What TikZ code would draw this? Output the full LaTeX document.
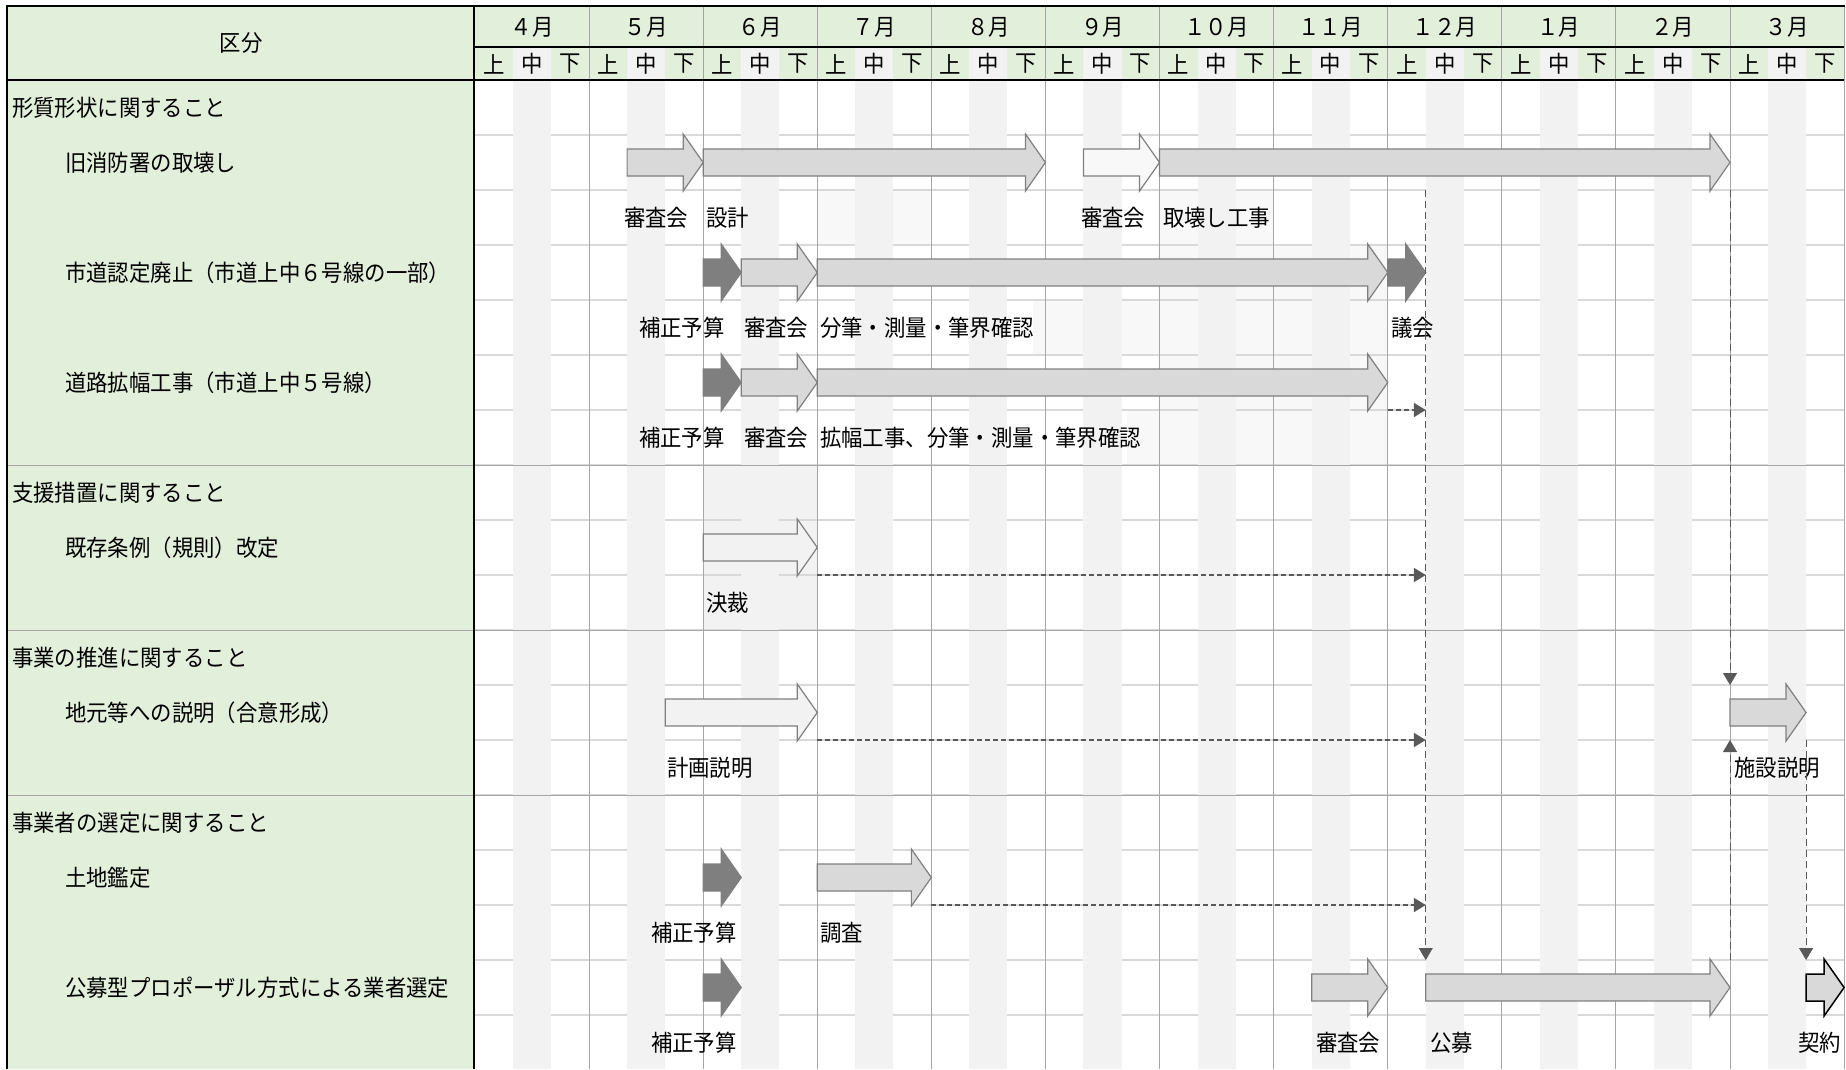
\documentclass[tikz,border=0pt]{standalone}
\usepackage{fontspec}
\newfontfamily\jp[FakeStretch=0.93]{Noto Sans CJK JP}
\usetikzlibrary{arrows.meta,positioning}

\definecolor{hdgreen}{HTML}{E2EFDA}
\definecolor{midgray}{HTML}{F2F2F2}
\definecolor{faint}{HTML}{F8F8F8}
\definecolor{rowgray}{HTML}{D9D9D9}
\definecolor{monthgray}{HTML}{A6A6A6}
\definecolor{arrowgray}{HTML}{D9D9D9}
\definecolor{arrowdark}{HTML}{7F7F7F}
\definecolor{linkgray}{HTML}{595959}

% block arrow: style, from decade, to decade, row
\newcommand{\blockarrow}[4]{%
  \draw[#1] ({dx(#2)},{ry(#4)-13.5}) -- ({dx(#3)-20},{ry(#4)-13.5}) -- ({dx(#3)-20},{ry(#4)-28.5})
    -- ({dx(#3)},{ry(#4)}) -- ({dx(#3)-20},{ry(#4)+28.5}) -- ({dx(#3)-20},{ry(#4)+13.5})
    -- ({dx(#2)},{ry(#4)+13.5}) -- cycle;}

\begin{document}
\begin{tikzpicture}[x=1pt, y=-1pt, >={Triangle[length=12pt,width=14pt]},
    font=\jp\fontsize{23}{26}\selectfont,
    declare function={dx(\d)=475+38.03*\d; ry(\r)=107.5+55*\r;}]
    % Styles
    \tikzstyle{item} = [inner sep=0pt, anchor=west]
    \tikzstyle{garrow} = [draw=arrowdark, fill=arrowgray, line width=1.2pt]
    \tikzstyle{darrow} = [draw=arrowdark, fill=arrowdark, line width=1.2pt]
    \tikzstyle{warrow} = [draw=arrowdark, fill=faint, line width=1.2pt]
    \tikzstyle{link} = [draw=linkgray, line width=2.2pt, dash pattern=on 5pt off 3pt, ->]
    \tikzstyle{vlink} = [draw=linkgray, line width=1pt, dash pattern=on 7pt off 4pt, ->]
    \tikzstyle{rowline} = [draw=rowgray, line width=2.2pt]
    \tikzstyle{monthline} = [draw=monthgray, line width=1pt]
    \useasboundingbox (0,0) rectangle (1846,1069);

    % Background
    \fill[hdgreen] (7,6) rectangle (1844,80);
    \fill[hdgreen] (7,80) rectangle (474,1069);
    \fill[faint] (817,190) rectangle (930,245);
    \fill[faint] (1158,190) rectangle (1274,245);
    \fill[faint] (1158,245) rectangle (1387,465);
    \fill[faint] (1033,300) rectangle (1158,355);
    \fill[faint] (1127,410) rectangle (1158,465);
    \fill[midgray] ({dx(6)},465) rectangle ({dx(9)},630);
    \foreach \k in {1,...,17}
        \draw[rowline] (475,{80+55*\k}) -- (1844,{80+55*\k});
    \foreach \m in {0,...,11}
        \fill[midgray] ({dx(3*\m+1)},47) rectangle ({dx(3*\m+2)},1069);

    % Grid
    \foreach \m in {1,...,11}
        \draw[monthline] ({dx(3*\m)},6) -- ({dx(3*\m)},1069);
    \draw[monthline] (1844,6) -- (1844,1069);
    \foreach \y in {465,630,795}
        \draw[monthline] (7,\y) -- (1844,\y);
    \draw[line width=1.5pt] (474,47) -- (1844,47);
    \draw[line width=1.5pt] (7,80) -- (1844,80);
    \draw[line width=1.5pt] (7,6) -- (7,1069);
    \draw[line width=1.5pt] (474,6) -- (474,1069);
    \draw[line width=2.5pt] (6,6) -- (1845,6);

    % Header
    \node (kubun) at (241,43) {区分};
    \foreach \t [count=\i from 0] in {４月,５月,６月,７月,８月,９月,１０月,１１月,１２月,１月,２月,３月} {
        \node (m\i) at ({dx(3*\i+1.5)},27) {\t};
        \node (u\i) at ({dx(3*\i+0.5)},64) {上};
        \node (c\i) at ({dx(3*\i+1.5)},64) {中};
        \node (l\i) at ({dx(3*\i+2.5)},64) {下};
    }

    % Items
    \node [item] (sec1) at (12,{ry(0)}) {形質形状に関すること};
    \node [item] (demolish) at (65,{ry(1)}) {旧消防署の取壊し};
    \node [item] (abolish) at (65,{ry(3)}) {市道認定廃止（市道上中６号線の一部）};
    \node [item] (widen) at (65,{ry(5)}) {道路拡幅工事（市道上中５号線）};
    \node [item] (sec2) at (12,{ry(7)}) {支援措置に関すること};
    \node [item] (rule) at (65,{ry(8)}) {既存条例（規則）改定};
    \node [item] (sec3) at (12,{ry(10)}) {事業の推進に関すること};
    \node [item] (local) at (65,{ry(11)}) {地元等への説明（合意形成）};
    \node [item] (sec4) at (12,{ry(13)}) {事業者の選定に関すること};
    \node [item] (land) at (65,{ry(14)}) {土地鑑定};
    \node [item] (kobo) at (65,{ry(16)}) {公募型プロポーザル方式による業者選定};

    % Bars
    \blockarrow{garrow}{4}{6}{1}
    \blockarrow{garrow}{6}{15}{1}
    \blockarrow{warrow}{16}{18}{1}
    \blockarrow{garrow}{18}{33}{1}
    \blockarrow{darrow}{6}{7}{3}
    \blockarrow{garrow}{7}{9}{3}
    \blockarrow{garrow}{9}{24}{3}
    \blockarrow{darrow}{24}{25}{3}
    \blockarrow{darrow}{6}{7}{5}
    \blockarrow{garrow}{7}{9}{5}
    \blockarrow{garrow}{9}{24}{5}
    \blockarrow{draw=arrowdark, line width=1.2pt}{6}{9}{8}
    \blockarrow{draw=arrowdark, fill=midgray, line width=1.2pt}{5}{9}{11}
    \blockarrow{garrow}{33}{35}{11}
    \blockarrow{darrow}{6}{7}{14}
    \blockarrow{garrow}{9}{12}{14}
    \blockarrow{darrow}{6}{7}{16}
    \blockarrow{garrow}{22}{24}{16}
    \blockarrow{garrow}{25}{33}{16}
    \blockarrow{draw=black, fill=arrowgray, line width=1.5pt}{35}{36}{16}

    % Bar labels
    \node [item] (s1) at (624,{ry(2)}) {審査会};
    \node [item] (design) at (706,{ry(2)}) {設計};
    \node [item] (s2) at (1081,{ry(2)}) {審査会};
    \node [item] (works) at (1163,{ry(2)}) {取壊し工事};
    \node [item] (b1) at (639,{ry(4)}) {補正予算};
    \node [item] (s3) at (744,{ry(4)}) {審査会};
    \node [item] (survey1) at (820,{ry(4)}) {分筆・測量・筆界確認};
    \node [item] (council) at (1391,{ry(4)}) {議会};
    \node [item] (b2) at (639,{ry(6)}) {補正予算};
    \node [item] (s4) at (744,{ry(6)}) {審査会};
    \node [item] (survey2) at (820,{ry(6)}) {拡幅工事、分筆・測量・筆界確認};
    \node [item] (approve) at (706,{ry(9)}) {決裁};
    \node [item] (plan) at (667,{ry(12)}) {計画説明};
    \node [item] (facility) at (1734,{ry(12)}) {施設説明};
    \node [item] (b3) at (651,{ry(15)}) {補正予算};
    \node [item] (research) at (820,{ry(15)}) {調査};
    \node [item] (b4) at (651,{ry(17)}) {補正予算};
    \node [item] (s5) at (1316,{ry(17)}) {審査会};
    \node [item] (recruit) at (1430,{ry(17)}) {公募};
    \node [item] (contract) at (1798,{ry(17)}) {契約};

    % Links
    \coordinate (roadOut) at ({dx(24)},410);
    \coordinate (roadIn) at ({dx(25)},410);
    \coordinate (ruleOut) at ({dx(9)},575);
    \coordinate (ruleIn) at ({dx(25)},575);
    \coordinate (localOut) at ({dx(9)},740);
    \coordinate (localIn) at ({dx(25)},740);
    \coordinate (landOut) at ({dx(12)},905);
    \coordinate (landIn) at ({dx(25)},905);
    \coordinate (koboTop) at ({dx(25)},190);
    \coordinate (koboIn) at ({dx(25)},960);
    \coordinate (demoTop) at ({dx(33)},190);
    \coordinate (briefIn) at ({dx(33)},685);
    \coordinate (koboOut) at ({dx(33)},960);
    \coordinate (briefUp) at ({dx(33)},740);
    \coordinate (briefOut) at ({dx(35)},740);
    \coordinate (contractIn) at ({dx(35)},960);
    \path [link] (roadOut) -- (roadIn);
    \path [link] (ruleOut) -- (ruleIn);
    \path [link] (localOut) -- (localIn);
    \path [link] (landOut) -- (landIn);
    \path [vlink] (koboTop) -- (koboIn);
    \path [vlink] (demoTop) -- (briefIn);
    \path [vlink] (koboOut) -- (briefUp);
    \path [vlink] (briefOut) -- (contractIn);
\end{tikzpicture}
\end{document}
